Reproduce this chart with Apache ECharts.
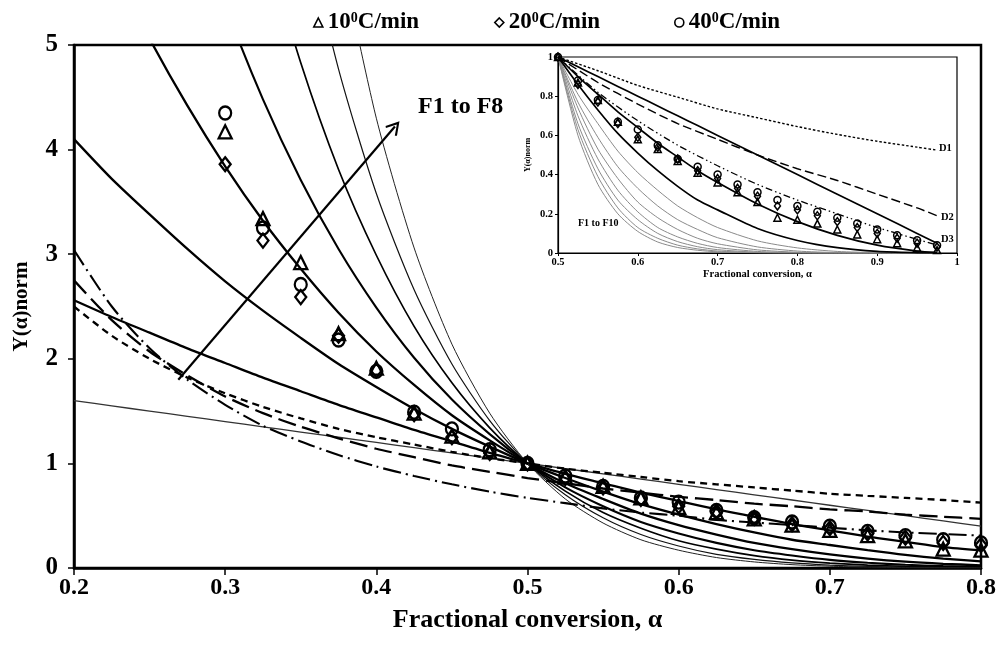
<!DOCTYPE html>
<html>
<head>
<meta charset="utf-8">
<script src="https://cdn.jsdelivr.net/npm/echarts@6/dist/echarts.min.js"></script>
<style>
html,body{margin:0;padding:0;background:#fff;overflow:hidden}
#c{width:1002px;height:655px}
</style>
</head>
<body>
<div id="c"></div>
<script>
// ---------------- DATA ----------------
// main chart tick labels
const xLabelsMain = ['0.2','0.3','0.4','0.5','0.6','0.7','0.8'];
const yLabelsMain = ['0','1','2','3','4','5'];
// inset tick labels
const xLabelsInset = ['0.5','0.6','0.7','0.8','0.9','1'];
const yLabelsInset = ['0','0.2','0.4','0.6','0.8','1'];

// main chart model curves (alpha grid)
const alphaMain = [0.2,0.225,0.25,0.275,0.3,0.325,0.35,0.375,0.4,0.425,0.45,0.475,0.5,0.525,0.55,0.575,0.6,0.625,0.65,0.675,0.7,0.725,0.75,0.775,0.8];
const F1main = [1.6,1.55,1.5,1.45,1.4,1.35,1.3,1.25,1.2,1.15,1.1,1.05,1,0.95,0.9,0.85,0.8,0.75,0.7,0.65,0.6,0.55,0.5,0.45,0.4];
const F2main = [2.56,2.40,2.25,2.10,1.96,1.82,1.69,1.56,1.44,1.32,1.21,1.10,1,0.90,0.81,0.72,0.64,0.56,0.49,0.42,0.36,0.30,0.25,0.20,0.17];
const F3main = [4.10,3.72,3.38,3.05,2.74,2.46,2.20,1.95,1.73,1.52,1.33,1.16,1,0.86,0.73,0.61,0.51,0.42,0.34,0.27,0.22,0.17,0.125,0.09,0.064];
const F4main = [null,5.77,5.06,4.42,3.84,3.32,2.86,2.44,2.07,1.75,1.46,1.22,1,0.81,0.66,0.52,0.41,0.32,0.24,0.18,0.13,0.09,0.06,0.04,0.026];
const F5main = [null,null,null,6.41,5.38,4.48,3.71,3.05,2.49,2.01,1.61,1.28,1,0.77,0.59,0.44,0.33,0.24,0.17,0.12,0.078,0.05,0.031,0.018,0.010];
const F6main = [null,null,null,null,null,6.05,4.83,3.81,2.99,2.31,1.77,1.34,1,0.735,0.53,0.38,0.26,0.18,0.118,0.075,0.047,0.028,0.016,0.008,0.004];
const F7main = [null,null,null,null,null,null,6.27,4.77,3.58,2.66,1.95,1.41,1,0.70,0.48,0.32,0.21,0.13,0.082,0.049,0.028,0.015,0.008,0.004,0.002];
const F8main = [null,null,null,null,null,null,null,5.96,4.30,3.06,2.14,1.48,1,0.66,0.43,0.27,0.17,0.10,0.058,0.032,0.017,0.008,0.004,0.002,0.001];
const D1main = [2.5,2.22,2.0,1.82,1.67,1.54,1.43,1.33,1.25,1.18,1.11,1.05,1.0,0.95,0.91,0.87,0.83,0.80,0.77,0.74,0.71,0.69,0.67,0.65,0.625];
const D2main = [2.75,2.37,2.07,1.84,1.64,1.48,1.35,1.24,1.14,1.06,0.98,0.92,0.86,0.81,0.76,0.72,0.68,0.65,0.615,0.59,0.56,0.54,0.51,0.49,0.47];
const D3main = [3.04,2.50,2.10,1.80,1.56,1.36,1.21,1.08,0.97,0.88,0.80,0.73,0.67,0.62,0.57,0.53,0.50,0.46,0.435,0.41,0.385,0.36,0.34,0.325,0.31];

// inset model curves
const alphaInsetF = [0.5,0.525,0.55,0.575,0.6,0.625,0.65,0.675,0.7,0.75,0.8,0.85,0.9,0.95,0.975];
const F1inset  = [1,0.95,0.9,0.85,0.8,0.75,0.7,0.65,0.6,0.5,0.4,0.3,0.2,0.1,0.05];
const F2inset  = [1,0.90,0.81,0.72,0.64,0.56,0.49,0.42,0.36,0.25,0.16,0.09,0.04,0.01,0.003];
const F3inset  = [1,0.86,0.73,0.61,0.51,0.42,0.34,0.27,0.22,0.125,0.064,0.027,0.008,0.001,0];
const F4inset  = [1,0.81,0.66,0.52,0.41,0.32,0.24,0.18,0.13,0.062,0.026,0.008,0.002,0,0];
const F5inset  = [1,0.77,0.59,0.44,0.33,0.24,0.17,0.12,0.078,0.031,0.010,0.002,0,0,0];
const F6inset  = [1,0.74,0.53,0.38,0.26,0.18,0.12,0.075,0.047,0.016,0.004,0.001,0,0,0];
const F7inset  = [1,0.70,0.48,0.32,0.21,0.13,0.082,0.049,0.028,0.008,0.002,0,0,0,0];
const F8inset  = [1,0.66,0.43,0.27,0.17,0.10,0.058,0.032,0.017,0.004,0.001,0,0,0,0];
const F9inset  = [1,0.63,0.39,0.23,0.13,0.075,0.040,0.021,0.010,0.002,0,0,0,0,0];
const F10inset = [1,0.60,0.35,0.20,0.11,0.056,0.028,0.014,0.006,0.001,0,0,0,0,0];
const alphaInsetD = [0.5,0.55,0.6,0.65,0.7,0.75,0.8,0.85,0.9,0.95,0.975];
const D1inset = [1,0.93,0.855,0.795,0.735,0.69,0.645,0.605,0.57,0.54,0.525];
const D2inset = [1,0.87,0.76,0.66,0.58,0.50,0.43,0.37,0.30,0.23,0.19];
const D3inset = [1,0.82,0.675,0.55,0.445,0.35,0.27,0.20,0.13,0.07,0.04];

// experimental points
const alphaExp = [0.3,0.325,0.35,0.375,0.4,0.425,0.45,0.475,0.5,0.525,0.55,0.575,0.6,0.625,0.65,0.675,0.7,0.725,0.75,0.775,0.8,0.825,0.85,0.875,0.9,0.925,0.95,0.975];
const y10 = [4.17,3.34,2.92,2.24,1.91,1.48,1.26,1.11,1.0,0.87,0.78,0.67,0.58,0.53,0.47,0.41,0.36,0.31,0.26,0.18,0.17,0.15,0.12,0.095,0.07,0.05,0.027,0.015];
const y20 = [3.86,3.13,2.59,2.22,1.89,1.47,1.25,1.10,1.0,0.86,0.77,0.66,0.59,0.54,0.48,0.42,0.38,0.33,0.29,0.24,0.22,0.19,0.16,0.13,0.10,0.075,0.05,0.03];
const y40 = [4.35,3.25,2.71,2.18,1.88,1.49,1.33,1.13,1.0,0.88,0.78,0.67,0.63,0.55,0.48,0.44,0.40,0.35,0.31,0.27,0.24,0.21,0.18,0.15,0.12,0.09,0.065,0.04];

// arrow annotation (data coordinates)
const arrowFrom = [0.269, 1.80];
const arrowTo = [0.4123, 4.22];

// ---------------- CHART ----------------
const FONT = '"Liberation Serif","Times New Roman",serif';
const chart = echarts.init(document.getElementById('c'), null, {renderer:'canvas'});

const xy = (xs, ys) => xs.map((x, i) => [x, ys[i]]).filter(p => p[1] !== null);

function lineS(xs, ys, g, color, width, type) {
  return {
    type: 'line', xAxisIndex: g, yAxisIndex: g, data: xy(xs, ys),
    showSymbol: false, symbol: 'none', smooth: 0.25, clip: true, silent: true,
    lineStyle: {color: color, width: width, type: type || 'solid'}, z: 2
  };
}
function scat(name, ys, g, symbol, size, bw, filt) {
  return {
    type: 'scatter', name: name, xAxisIndex: g, yAxisIndex: g,
    data: xy(alphaExp, ys).filter(filt), symbol: symbol, symbolSize: size, clip: true, silent: true,
    itemStyle: {color: 'rgba(255,255,255,0)', borderColor: '#000', borderWidth: bw, opacity: 1}, z: 4
  };
}
const inMain = p => p[0] <= 0.8 + 1e-9;
const inInset = p => p[0] >= 0.5 - 1e-9;

const ARROW = 'path://M50,0 L100,74 L89,82 L50,24 L11,82 L0,74 Z';

const series = [
  Object.assign(lineS(alphaMain, F1main, 0, '#333', 1.3), {
    markLine: {
      silent: true, symbol: ['none', ARROW], symbolSize: [15, 14],
      lineStyle: {color: '#000', width: 2.2, type: 'solid'}, label: {show: false},
      data: [[{coord: arrowFrom}, {coord: arrowTo}]]
    }
  }),
  lineS(alphaMain, F2main, 0, '#000', 2.3),
  lineS(alphaMain, F3main, 0, '#000', 2.3),
  lineS(alphaMain, F4main, 0, '#000', 2.3),
  lineS(alphaMain, F5main, 0, '#000', 2.1),
  lineS(alphaMain, F6main, 0, '#000', 1.7),
  lineS(alphaMain, F7main, 0, '#111', 1.2),
  lineS(alphaMain, F8main, 0, '#222', 1.0),
  lineS(alphaMain, D1main, 0, '#000', 2.3, [7, 5]),
  lineS(alphaMain, D2main, 0, '#000', 2.3, [18, 7]),
  lineS(alphaMain, D3main, 0, '#000', 2.1, [18, 5, 2, 5]),
  scat('10', y10, 0, 'triangle', 13, 2.3, inMain),
  scat('20', y20, 0, 'diamond', [11, 14], 2.3, inMain),
  scat('40', y40, 0, 'circle', [12, 13], 2.3, inMain),
  // inset
  lineS(alphaInsetF, F4inset, 1, '#8a8a8a', 1),
  lineS(alphaInsetF, F5inset, 1, '#8a8a8a', 1),
  lineS(alphaInsetF, F6inset, 1, '#8a8a8a', 1),
  lineS(alphaInsetF, F7inset, 1, '#8a8a8a', 1),
  lineS(alphaInsetF, F8inset, 1, '#8a8a8a', 1),
  lineS(alphaInsetF, F9inset, 1, '#8a8a8a', 1),
  lineS(alphaInsetF, F10inset, 1, '#8a8a8a', 1),
  lineS(alphaInsetF, F1inset, 1, '#000', 1.7),
  lineS(alphaInsetF, F2inset, 1, '#000', 1.7),
  lineS(alphaInsetF, F3inset, 1, '#000', 1.7),
  lineS(alphaInsetD, D1inset, 1, '#000', 1.4, [2.5, 2]),
  lineS(alphaInsetD, D2inset, 1, '#000', 1.4, [9, 4]),
  lineS(alphaInsetD, D3inset, 1, '#000', 1.3, [7, 3, 1.5, 3, 1.5, 3]),
  scat('10i', y10, 1, 'triangle', 7, 1.5, inInset),
  scat('20i', y20, 1, 'diamond', [6, 8], 1.5, inInset),
  scat('40i', y40, 1, 'circle', 7, 1.5, inInset)
];

const legendRich = {
  n: {fontSize: 23, fontWeight: 'bold', fontFamily: FONT, color: '#000'},
  s: {fontSize: 14, fontWeight: 'bold', fontFamily: FONT, color: '#000', verticalAlign: 'top'}
};
function legendAt(left, name, icon) {
  return {
    left: left, top: 6, orient: 'horizontal', selectedMode: false,
    itemWidth: 9, itemHeight: 9, itemGap: 0,
    data: [{name: name, icon: icon}],
    itemStyle: {color: 'rgba(255,255,255,0)', borderColor: '#000', borderWidth: 1.6, opacity: 1},
    formatter: n => '{n|' + n + '}{s|0}{n|C/min}',
    textStyle: {rich: legendRich}
  };
}

const boldTxt = (size) => ({fontSize: size, fontWeight: 'bold', fontFamily: FONT, color: '#000'});

const option = {
  animation: false,
  backgroundColor: '#fff',
  legend: [legendAt(308, '10', 'triangle'), legendAt(489, '20', 'diamond'), legendAt(669, '40', 'circle')],
  grid: [
    {left: 74, right: 21, top: 45, bottom: 87, show: true, borderColor: '#000', borderWidth: 2.5, containLabel: false, outerBoundsMode: 'none'},
    {left: 558, right: 45, top: 57, bottom: 402, show: true, borderColor: '#000', borderWidth: 1.2, backgroundColor: '#fff', containLabel: false, outerBoundsMode: 'none'}
  ],
  xAxis: [
    {gridIndex: 0, type: 'value', min: 0.2, max: 0.8, interval: 0.1,
     axisLine: {show: true, onZero: false, lineStyle: {color: '#000', width: 2.5}},
     axisTick: {show: true, length: 7, lineStyle: {color: '#000', width: 1.5}},
     axisLabel: Object.assign(boldTxt(24), {margin: 8, formatter: (v, i) => xLabelsMain[i]}),
     splitLine: {show: false},
     name: 'Fractional conversion, α', nameLocation: 'middle', nameGap: 39,
     nameTextStyle: boldTxt(26)},
    {gridIndex: 1, type: 'value', min: 0.5, max: 1, interval: 0.1,
     axisLine: {show: true, onZero: false, lineStyle: {color: '#000', width: 1.2}},
     axisTick: {show: true, length: 3, lineStyle: {color: '#000', width: 1}},
     axisLabel: Object.assign(boldTxt(10.5), {margin: 4, formatter: (v, i) => xLabelsInset[i]}),
     splitLine: {show: false},
     name: 'Fractional conversion, α', nameLocation: 'middle', nameGap: 15,
     nameTextStyle: boldTxt(10.5)}
  ],
  yAxis: [
    {gridIndex: 0, type: 'value', min: 0, max: 5, interval: 1,
     axisLine: {show: true, onZero: false, lineStyle: {color: '#000', width: 2.5}},
     axisTick: {show: true, length: 6, lineStyle: {color: '#000', width: 1.5}},
     axisLabel: Object.assign(boldTxt(25), {margin: 16, formatter: (v, i) => yLabelsMain[i]}),
     splitLine: {show: false},
     name: 'Y(α)norm', nameLocation: 'middle', nameGap: 42, nameRotate: 90,
     nameTextStyle: boldTxt(21)},
    {gridIndex: 1, type: 'value', min: 0, max: 1, interval: 0.2,
     axisLine: {show: true, onZero: false, lineStyle: {color: '#000', width: 1.2}},
     axisTick: {show: true, length: 3, lineStyle: {color: '#000', width: 1}},
     axisLabel: Object.assign(boldTxt(10.5), {margin: 5, formatter: (v, i) => yLabelsInset[i]}),
     splitLine: {show: false},
     name: 'Y(α)norm', nameLocation: 'middle', nameGap: 26, nameRotate: 90,
     nameTextStyle: boldTxt(8)}
  ],
  graphic: [
    {type: 'text', x: 418, y: 107, z: 10, style: {text: 'F1 to F8', font: 'bold 24px ' + FONT, fill: '#000', textVerticalAlign: 'middle'}},
    {type: 'text', x: 939, y: 148, z: 10, style: {text: 'D1', font: 'bold 10.5px ' + FONT, fill: '#000', textVerticalAlign: 'middle'}},
    {type: 'text', x: 941, y: 217, z: 10, style: {text: 'D2', font: 'bold 10.5px ' + FONT, fill: '#000', textVerticalAlign: 'middle'}},
    {type: 'text', x: 941, y: 239, z: 10, style: {text: 'D3', font: 'bold 10.5px ' + FONT, fill: '#000', textVerticalAlign: 'middle'}},
    {type: 'text', x: 578, y: 223, z: 10, style: {text: 'F1 to F10', font: 'bold 10px ' + FONT, fill: '#000', textVerticalAlign: 'middle'}}
  ],
  series: series
};
chart.setOption(option);
</script>
</body>
</html>
